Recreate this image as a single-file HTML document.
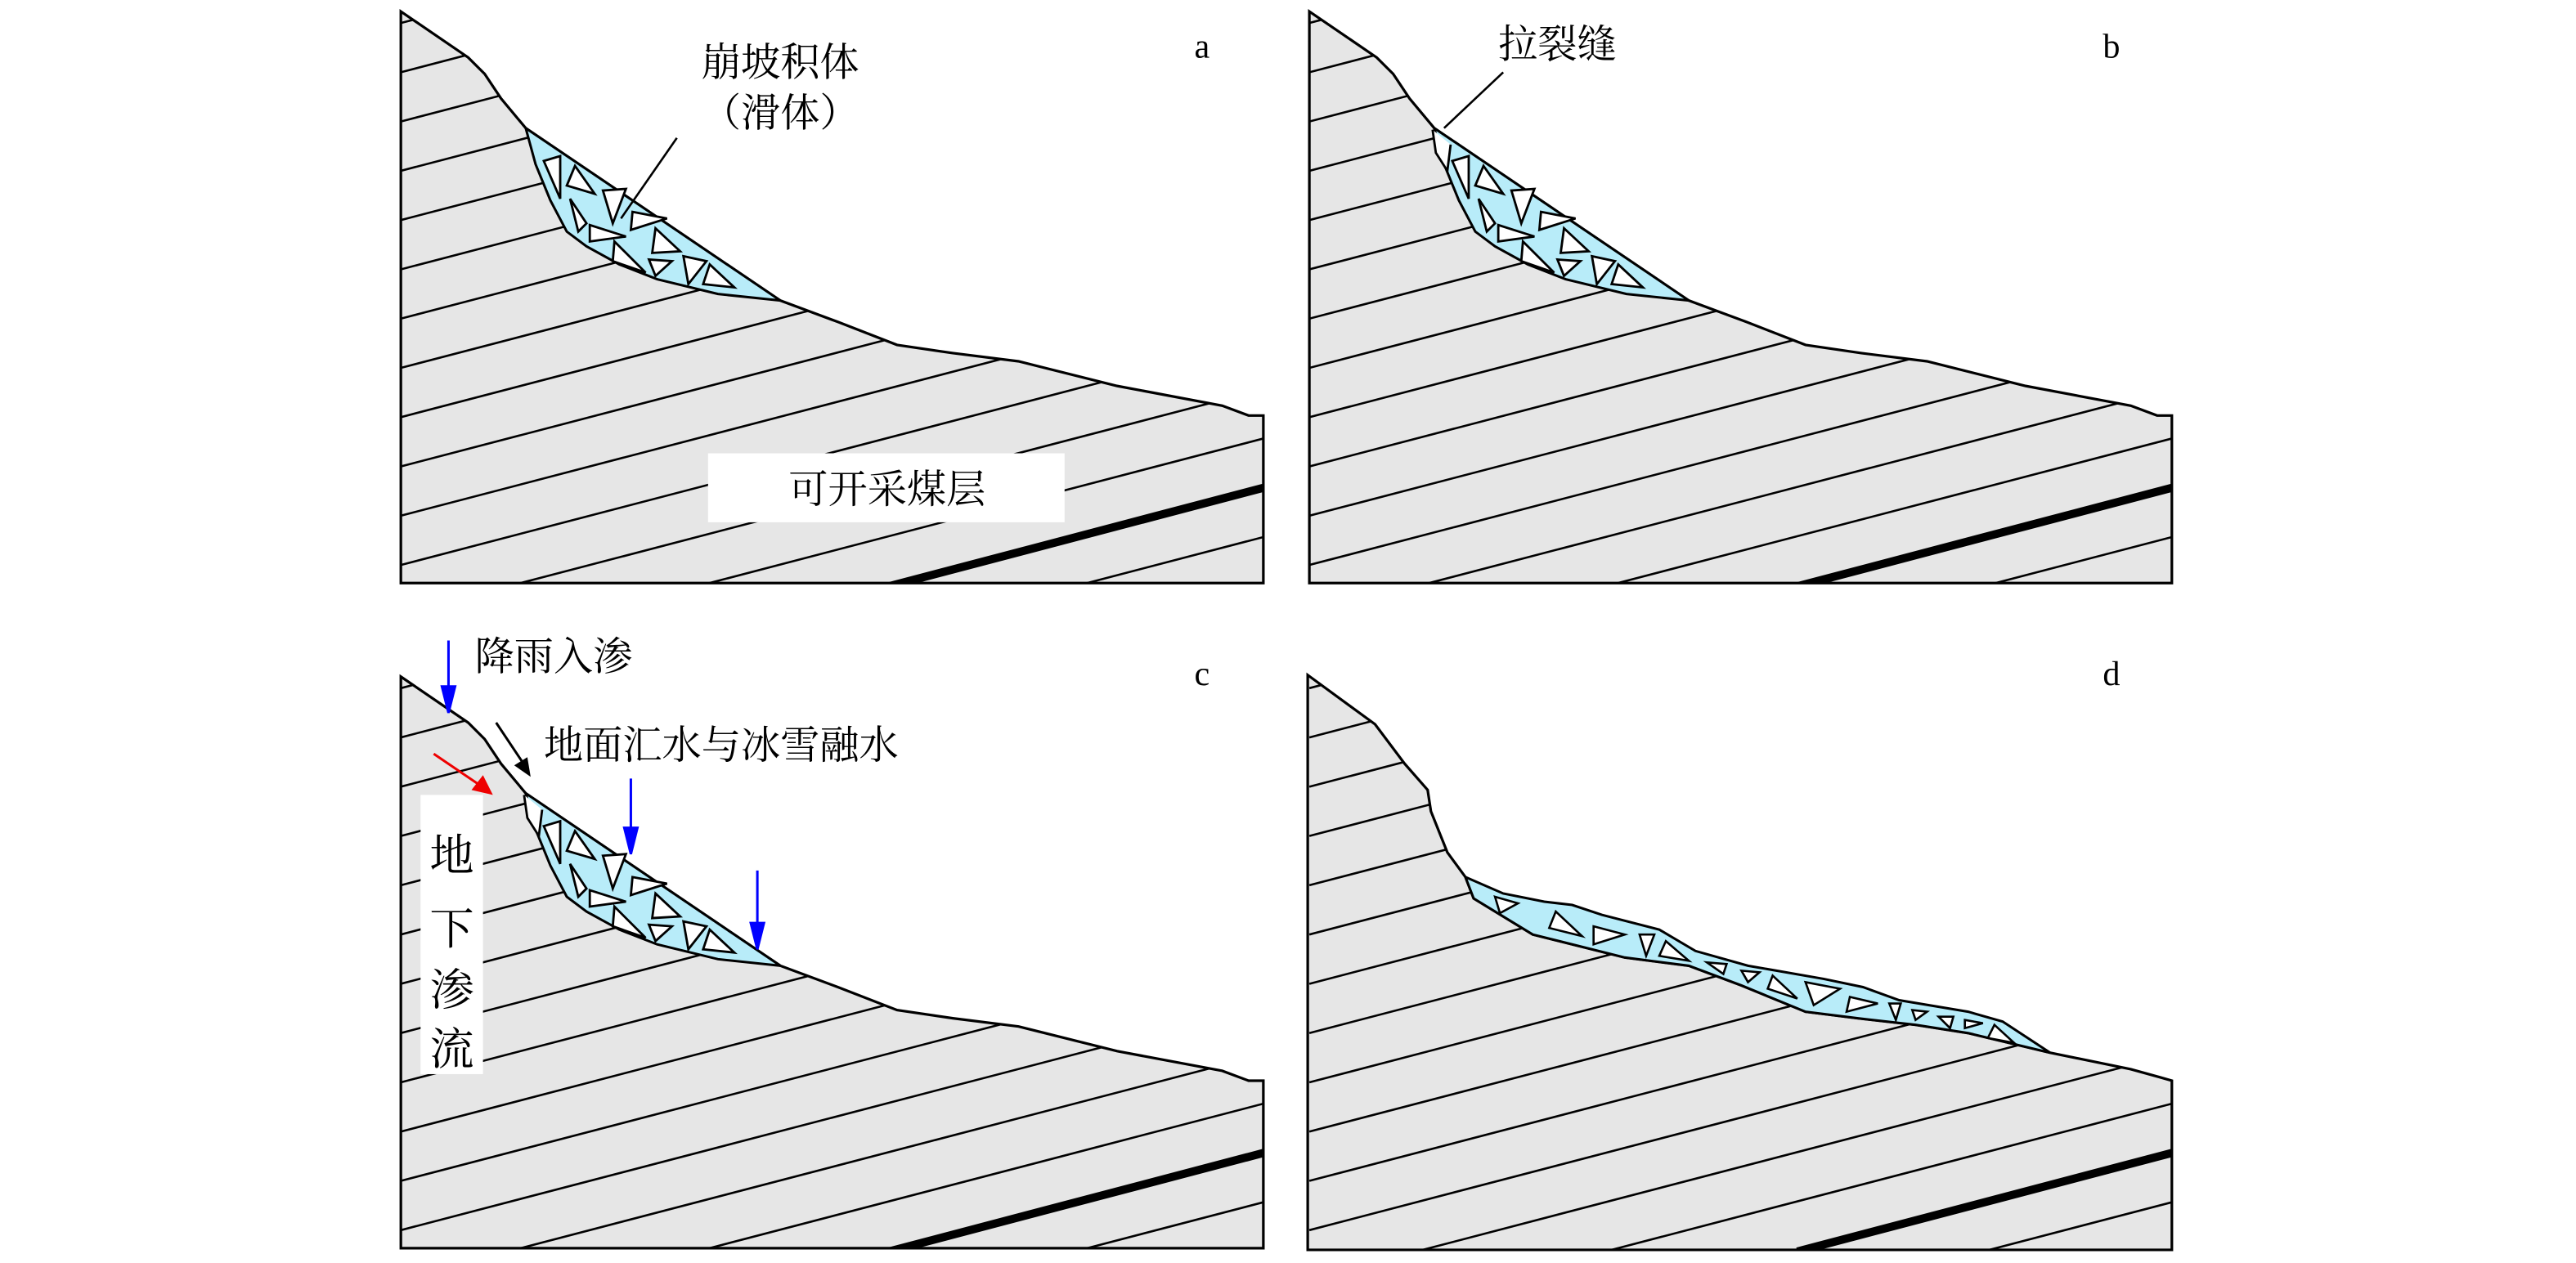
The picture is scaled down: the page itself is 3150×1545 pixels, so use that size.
<!DOCTYPE html>
<html><head><meta charset="utf-8"><style>html,body{margin:0;padding:0;background:#fff;overflow:hidden;width:3150px;height:1545px}svg{display:block;position:absolute;left:0;top:0}</style></head>
<body>
<svg width="3150" height="1545" viewBox="0 0 1568 769" preserveAspectRatio="none" overflow="hidden" xmlns="http://www.w3.org/2000/svg" font-family="'Liberation Serif','Noto Serif CJK SC','Noto Sans CJK SC',serif">
<defs>
<path id="rockA" d="M244,7 L285,35 L295,45 L305,60 L320,78 L475,183 L510,196 L546,210 L580,215 L620,220 L680,235 L744,247 L760,253 L769,253 L769,355 L244,355 Z"/>
<path id="rockD" d="M243,6 L284,36 L302,60 L316,76 L318,89 L328,114 L339,129 L344,142 L380,164 L436,178 L475,183 L507,195 L546,211 L578,215 L613,219 L645,224 L695,236 L744,246 L762,251 L769,253 L769,356 L243,356 Z"/>
<clipPath id="cA"><use href="#rockA"/></clipPath>
<clipPath id="cD"><use href="#rockD"/></clipPath>
<g id="lines" stroke="#000" stroke-width="1.3">
<line x1="244" y1="14" x2="769" y2="-123"/><line x1="244" y1="44" x2="769" y2="-93"/><line x1="244" y1="74" x2="769" y2="-63"/><line x1="244" y1="104" x2="769" y2="-33"/><line x1="244" y1="134" x2="769" y2="-3"/><line x1="244" y1="164" x2="769" y2="27"/><line x1="244" y1="194" x2="769" y2="57"/><line x1="244" y1="224" x2="769" y2="87"/><line x1="244" y1="254" x2="769" y2="117"/><line x1="244" y1="284" x2="769" y2="147"/><line x1="244" y1="314" x2="769" y2="177"/><line x1="244" y1="344" x2="769" y2="207"/><line x1="244" y1="374" x2="769" y2="237"/><line x1="244" y1="404" x2="769" y2="267"/><line x1="244" y1="464" x2="769" y2="327"/><line x1="244" y1="494" x2="769" y2="357"/>
<line x1="541" y1="357" x2="769" y2="297" stroke-width="5"/>
</g>
<g id="depo" stroke="#000" stroke-width="1.5">
<path d="M320,78 L475,183 L437,179 L400,170 L377,161 L357,150 L345,141 L335,122 L326,100 Z" fill="#b8ecf9"/>
<g fill="#fff" stroke-width="1.4">
<path d="M331,98 L341,95 L341,121 Z"/><path d="M350,101 L362,118 L345,113 Z"/><path d="M367,116 L381,115 L373,136 Z"/><path d="M385,129 L406,133 L384,140 Z"/><path d="M347,121 L352,141 L357,136 Z"/><path d="M359,137 L381,144 L359,147 Z"/><path d="M399,139 L414,153 L397,154 Z"/><path d="M374,147 L393,166 L373,159 Z"/><path d="M395,158 L409,159 L399,168 Z"/><path d="M416,156 L430,159 L419,173 Z"/><path d="M432,161 L447,175 L428,173 Z"/>
</g></g>
<g id="panelA">
<use href="#rockA" fill="#e6e6e6"/>
<g clip-path="url(#cA)"><use href="#lines"/></g>
<use href="#rockA" fill="none" stroke="#000" stroke-width="1.6"/>
</g>
</defs>

<!-- a -->
<use href="#panelA"/>
<use href="#depo"/>
<text x="475" y="46" font-size="24" text-anchor="middle">崩坡积体</text>
<text x="475" y="77" font-size="24" text-anchor="middle">（滑体）</text>
<line x1="412" y1="84" x2="378" y2="133" stroke="#000" stroke-width="1.3"/>
<text x="727" y="35" font-size="21">a</text>
<rect x="431" y="276" width="217" height="42" fill="#fff"/>
<text x="540" y="306" font-size="24" text-anchor="middle">可开采煤层</text>

<!-- b -->
<g transform="translate(553,0)">
<use href="#panelA"/>
<use href="#depo"/>
<path d="M319,79 L321,93 L328,104 L330,88" fill="#fff" stroke="#000" stroke-width="1.4"/>
</g>
<text x="912" y="35" font-size="24">拉裂缝</text>
<line x1="915" y1="44" x2="879" y2="78" stroke="#000" stroke-width="1.3"/>
<text x="1280" y="35" font-size="21">b</text>

<!-- c -->
<g transform="translate(0,405)">
<use href="#panelA"/>
<use href="#depo"/>
<path d="M319,79 L321,93 L328,104 L330,88" fill="#fff" stroke="#000" stroke-width="1.4"/>
</g>
<text x="727" y="417" font-size="21">c</text>
<text x="289" y="408" font-size="24">降雨入渗</text>
<text x="331" y="462" font-size="24">地面汇水与冰雪融水</text>
<g stroke="#00f" stroke-width="1.5" fill="#00f">
<line x1="273" y1="390" x2="273" y2="422"/><path d="M269,418 L277,418 L273,434 Z"/>
<line x1="384" y1="474" x2="384" y2="508"/><path d="M380,504 L388,504 L384,520 Z"/>
<line x1="461" y1="530" x2="461" y2="566"/><path d="M457,562 L465,562 L461,578 Z"/>
</g>
<line x1="302" y1="440" x2="318" y2="464" stroke="#000" stroke-width="1.5"/><path d="M313,466 L321,461 L323,473 Z" fill="#000"/>
<line x1="264" y1="459" x2="292" y2="478" stroke="#e00" stroke-width="1.5"/><path d="M287,481 L294,472 L300,484 Z" fill="#e00"/>
<rect x="256" y="484" width="38" height="170" fill="#fff"/>
<text x="275" y="530" font-size="27" text-anchor="middle">地</text>
<text x="275" y="575" font-size="27" text-anchor="middle">下</text>
<text x="275" y="612" font-size="27" text-anchor="middle">渗</text>
<text x="275" y="648" font-size="27" text-anchor="middle">流</text>

<!-- d -->
<g transform="translate(553,405)">
<use href="#rockD" fill="#e6e6e6"/>
<g clip-path="url(#cD)"><use href="#lines"/></g>
<use href="#rockD" fill="none" stroke="#000" stroke-width="1.6"/>
<path d="M339,129 L362,139 L387,144 L404,146 L422,152 L457,161 L479,174 L511,183 L557,191 L581,196 L603,204 L645,211 L666,217 L695,236 L645,224 L613,219 L578,215 L546,211 L507,195 L475,183 L436,178 L380,164 L344,142 Z" fill="#b8ecf9" stroke="#000" stroke-width="1.5"/>
<g fill="#fff" stroke="#000" stroke-width="1.3">
<path d="M357,141 L371,145 L360,151 Z"/><path d="M390,160 L394,150 L410,165 Z"/><path d="M417,159 L436,164 L417,170 Z"/><path d="M445,164 L454,164 L449,177 Z"/><path d="M461,168 L475,180 L457,177 Z"/><path d="M486,181 L498,182 L496,188 Z"/><path d="M507,186 L518,187 L511,193 Z"/><path d="M526,189 L541,203 L523,197 Z"/><path d="M546,193 L567,197 L551,207 Z"/><path d="M573,202 L590,206 L571,211 Z"/><path d="M597,206 L604,206 L601,216 Z"/><path d="M611,210 L620,211 L613,216 Z"/><path d="M627,214 L636,214 L634,221 Z"/><path d="M643,216 L654,218 L643,221 Z"/><path d="M661,219 L673,230 L657,227 Z"/>
</g>
</g>
<text x="1280" y="417" font-size="21">d</text>
</svg>
</body></html>
